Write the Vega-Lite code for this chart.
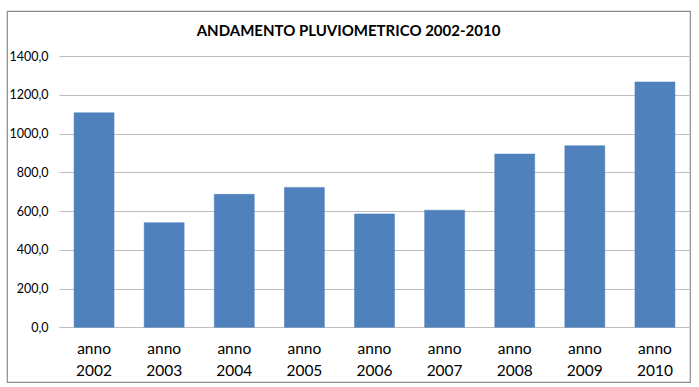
{
  "$schema": "https://vega.github.io/schema/vega-lite/v6.json",
  "width": 683,
  "height": 371,
  "autosize": {"type": "none"},
  "padding": {"left": 7, "top": 11, "right": 9, "bottom": 5},
  "background": "white",
  "title": {
    "text": "ANDAMENTO PLUVIOMETRICO 2002-2010",
    "font": "Lato",
    "fontSize": 15,
    "fontWeight": "bold",
    "color": "#000000",
    "anchor": "middle",
    "frame": "group",
    "offset": -28
  },
  "data": {
    "values": [
      {"anno": "anno 2002", "mm": 1107},
      {"anno": "anno 2003", "mm": 540},
      {"anno": "anno 2004", "mm": 686},
      {"anno": "anno 2005", "mm": 722},
      {"anno": "anno 2006", "mm": 585},
      {"anno": "anno 2007", "mm": 604},
      {"anno": "anno 2008", "mm": 894},
      {"anno": "anno 2009", "mm": 937},
      {"anno": "anno 2010", "mm": 1266}
    ]
  },
  "mark": {"type": "bar", "color": "#4F81BD", "stroke": "#4A7EBB", "strokeWidth": 0.5},
  "encoding": {
    "x": {
      "field": "anno",
      "type": "nominal",
      "sort": null,
      "scale": {"range": [52, 683], "paddingInner": 0.43, "paddingOuter": 0.215},
      "axis": {
        "title": null,
        "orient": "bottom",
        "offset": -55,
        "labelAngle": 0,
        "labelExpr": "split(datum.label, ' ')",
        "labelFont": "Lato",
        "labelFontSize": 15.5,
        "labelColor": "#000000",
        "labelLineHeight": 22,
        "labelPadding": 14,
        "ticks": false,
        "domain": true,
        "domainColor": "#BEBEBE",
        "domainWidth": 1,
        "grid": false
      }
    },
    "y": {
      "field": "mm",
      "type": "quantitative",
      "scale": {"domain": [0, 1400], "range": [316.3, 45], "nice": false, "zero": true},
      "axis": {
        "title": null,
        "orient": "left",
        "offset": -52,
        "values": [0, 200, 400, 600, 800, 1000, 1200, 1400],
        "labelExpr": "replace(format(datum.value, '.1f'), '.', ',')",
        "labelFont": "Lato",
        "labelFontSize": 12.5,
        "labelColor": "#000000",
        "labelPadding": 11,
        "ticks": false,
        "domain": false,
        "grid": true,
        "gridColor": "#BEBEBE",
        "gridWidth": 1,
        "gridOpacity": 1
      }
    }
  },
  "config": {
    "view": {"stroke": "#8C8C8C", "strokeWidth": 1.2}
  }
}
